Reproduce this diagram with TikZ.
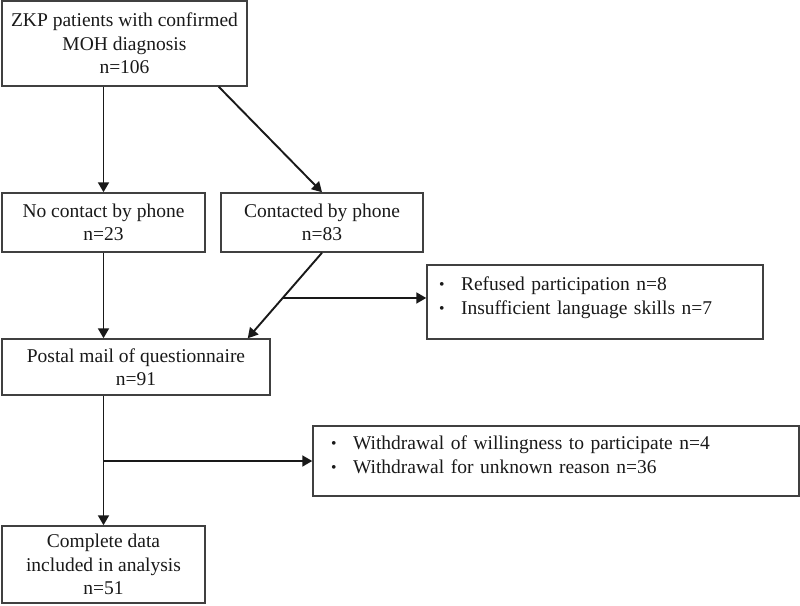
\documentclass[tikz,border=0pt]{standalone}
\usepackage{fontspec}
\setmainfont{Liberation Serif}
\usetikzlibrary{arrows.meta,calc}
\begin{document}
\begin{tikzpicture}[x=1pt,y=-1pt,
  box/.style={draw=black!75, line width=1.5pt, inner sep=0pt, align=center,
    font=\fontsize{19.5}{23.5}\selectfont, text=black!90},
  lbox/.style={box, align=left},
  arr/.style={draw=black!90, line width=1.9pt, -{Triangle[length=10pt,width=11pt]}}]
\useasboundingbox (0,0) rectangle (800,605);
\node[box, minimum width=245pt, minimum height=85pt] (b1) at (124.5,43.5)
  {ZKP patients with confirmed\\MOH diagnosis\\n=106};
\node[box, minimum width=203pt, minimum height=59pt] (b2) at (103.5,222.5)
  {No contact by phone\\n=23};
\node[box, minimum width=202pt, minimum height=59pt] (b3) at (322,222.5)
  {Contacted by phone\\n=83};
\node[lbox, text width=312pt, inner xsep=12pt, minimum height=74pt] (b4) at (595,302)
  {\makebox[22pt][l]{\raisebox{1pt}{\scalebox{0.8}{\textbullet}}}Refused participation n=8\\
   \makebox[22pt][l]{\raisebox{1pt}{\scalebox{0.8}{\textbullet}}}Insufficient language skills n=7\rule[-13pt]{0pt}{1pt}};
\node[box, minimum width=268pt, minimum height=56pt] (b5) at (136,367)
  {Postal mail of questionnaire\\n=91};
\node[lbox, text width=450pt, inner xsep=18pt, minimum height=70pt] (b6) at (556,461)
  {\makebox[22pt][l]{\raisebox{1pt}{\scalebox{0.8}{\textbullet}}}Withdrawal of willingness to participate n=4\\
   \makebox[22pt][l]{\raisebox{1pt}{\scalebox{0.8}{\textbullet}}}Withdrawal for unknown reason n=36\rule[-13pt]{0pt}{1pt}};
\node[box, minimum width=203pt, minimum height=77pt] (b7) at (103.5,564.5)
  {Complete data\\included in analysis\\n=51};
% connectors
\draw[arr] (b2.north |- b1.south) -- (b2.north);
\draw[arr] ([xshift=-29pt]b1.south east) -- (b3.north);
\draw[arr] (b2.south) -- (b5.north -| b2.south);
\coordinate (t5) at ([xshift=-23pt]b5.north east);
\draw[arr] (b3.south) -- (t5);
\coordinate (j1) at ($(b3.south)!0.529!(t5)$);
\draw[arr] (j1) -- (j1 -| b4.west);
\draw[arr] (b5.south -| b7.north) -- (b7.north);
\draw[arr] (b7.north |- b6.west) -- (b6.west);
\end{tikzpicture}
\end{document}
